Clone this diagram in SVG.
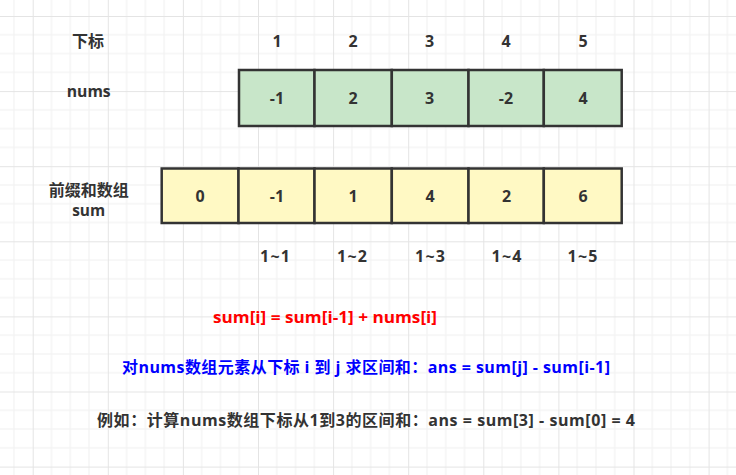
<svg xmlns="http://www.w3.org/2000/svg" width="736" height="475" viewBox="0 0 736 475">
<defs>
<pattern id="grid" patternUnits="userSpaceOnUse" x="32.7" y="16" width="75.1" height="75.1">
<g stroke="#f0f0f0" stroke-width="1">
<line x1="18.775" y1="0" x2="18.775" y2="75.1"/>
<line x1="37.55" y1="0" x2="37.55" y2="75.1"/>
<line x1="56.325" y1="0" x2="56.325" y2="75.1"/>
<line x1="0" y1="18.775" x2="75.1" y2="18.775"/>
<line x1="0" y1="37.55" x2="75.1" y2="37.55"/>
<line x1="0" y1="56.325" x2="75.1" y2="56.325"/>
</g>
<g stroke="#e4e4e4" stroke-width="1">
<line x1="0.5" y1="0" x2="0.5" y2="75.1"/>
<line x1="0" y1="0.5" x2="75.1" y2="0.5"/>
</g>
</pattern>
<style>
text{font-family:"Open Sans","Noto Sans CJK SC",sans-serif;font-weight:bold;font-size:16px;fill:#333333;text-anchor:middle}
.cell{stroke:#333333;stroke-width:2.5}
.g{fill:#c8e6c9}
.y{fill:#fff9c4}
.red{fill:#ff0000}
.blue{fill:#0000ff}
</style>
</defs>
<rect width="736" height="475" fill="#ffffff"/>
<rect width="736" height="475" fill="url(#grid)"/>

<g id="label-index"><text x="88" y="46.5">下标</text></g>
<g id="label-nums"><text x="88.7" y="97" textLength="44" lengthAdjust="spacingAndGlyphs">nums</text></g>
<g id="label-prefix"><text x="88.8" y="196">前缀和数组</text><text x="88.7" y="216" textLength="33" lengthAdjust="spacingAndGlyphs">sum</text></g>

<g id="index-labels">
<text x="277" y="47">1</text>
<text x="353" y="47">2</text>
<text x="429.5" y="47">3</text>
<text x="506" y="47">4</text>
<text x="583" y="47">5</text>
</g>

<g id="nums-array">
<rect class="cell g" x="239" y="70" width="75.5" height="56"/>
<rect class="cell g" x="314.5" y="70" width="77.3" height="56"/>
<rect class="cell g" x="391.8" y="70" width="76.7" height="56"/>
<rect class="cell g" x="468.5" y="70" width="75.3" height="56"/>
<rect class="cell g" x="543.8" y="70" width="77.9" height="56"/>
<text x="277" y="104.3">-1</text>
<text x="353" y="104.3">2</text>
<text x="429.5" y="104.3">3</text>
<text x="506" y="104.3">-2</text>
<text x="583" y="104.3">4</text>
</g>

<g id="sum-array">
<rect class="cell y" x="161.7" y="168.5" width="76.8" height="54.5"/>
<rect class="cell y" x="238.5" y="168.5" width="76" height="54.5"/>
<rect class="cell y" x="314.5" y="168.5" width="77.3" height="54.5"/>
<rect class="cell y" x="391.8" y="168.5" width="76.7" height="54.5"/>
<rect class="cell y" x="468.5" y="168.5" width="75.3" height="54.5"/>
<rect class="cell y" x="543.8" y="168.5" width="77.9" height="54.5"/>
<text x="200" y="201.7">0</text>
<text x="277" y="201.7">-1</text>
<text x="353" y="201.7">1</text>
<text x="430" y="201.7">4</text>
<text x="506.5" y="201.7">2</text>
<text x="583" y="201.7">6</text>
</g>

<g id="range-labels">
<text x="275" y="261.7" textLength="30" lengthAdjust="spacing">1~1</text>
<text x="352" y="261.7" textLength="30" lengthAdjust="spacing">1~2</text>
<text x="430" y="261.7" textLength="30" lengthAdjust="spacing">1~3</text>
<text x="506.5" y="261.7" textLength="30" lengthAdjust="spacing">1~4</text>
<text x="582.5" y="261.7" textLength="30" lengthAdjust="spacing">1~5</text>
</g>

<g id="formula"><text class="red" x="325" y="322.7" textLength="224" lengthAdjust="spacingAndGlyphs">sum[i] = sum[i-1] + nums[i]</text></g>
<g id="range-sum"><text class="blue" x="366" y="373" textLength="488" lengthAdjust="spacing">对nums数组元素从下标 i 到 j 求区间和：ans = sum[j] - sum[i-1]</text></g>
<g id="example"><text x="366" y="426" textLength="538" lengthAdjust="spacing">例如：计算nums数组下标从1到3的区间和：ans = sum[3] - sum[0] = 4</text></g>

<g id="connectors"/>
</svg>
